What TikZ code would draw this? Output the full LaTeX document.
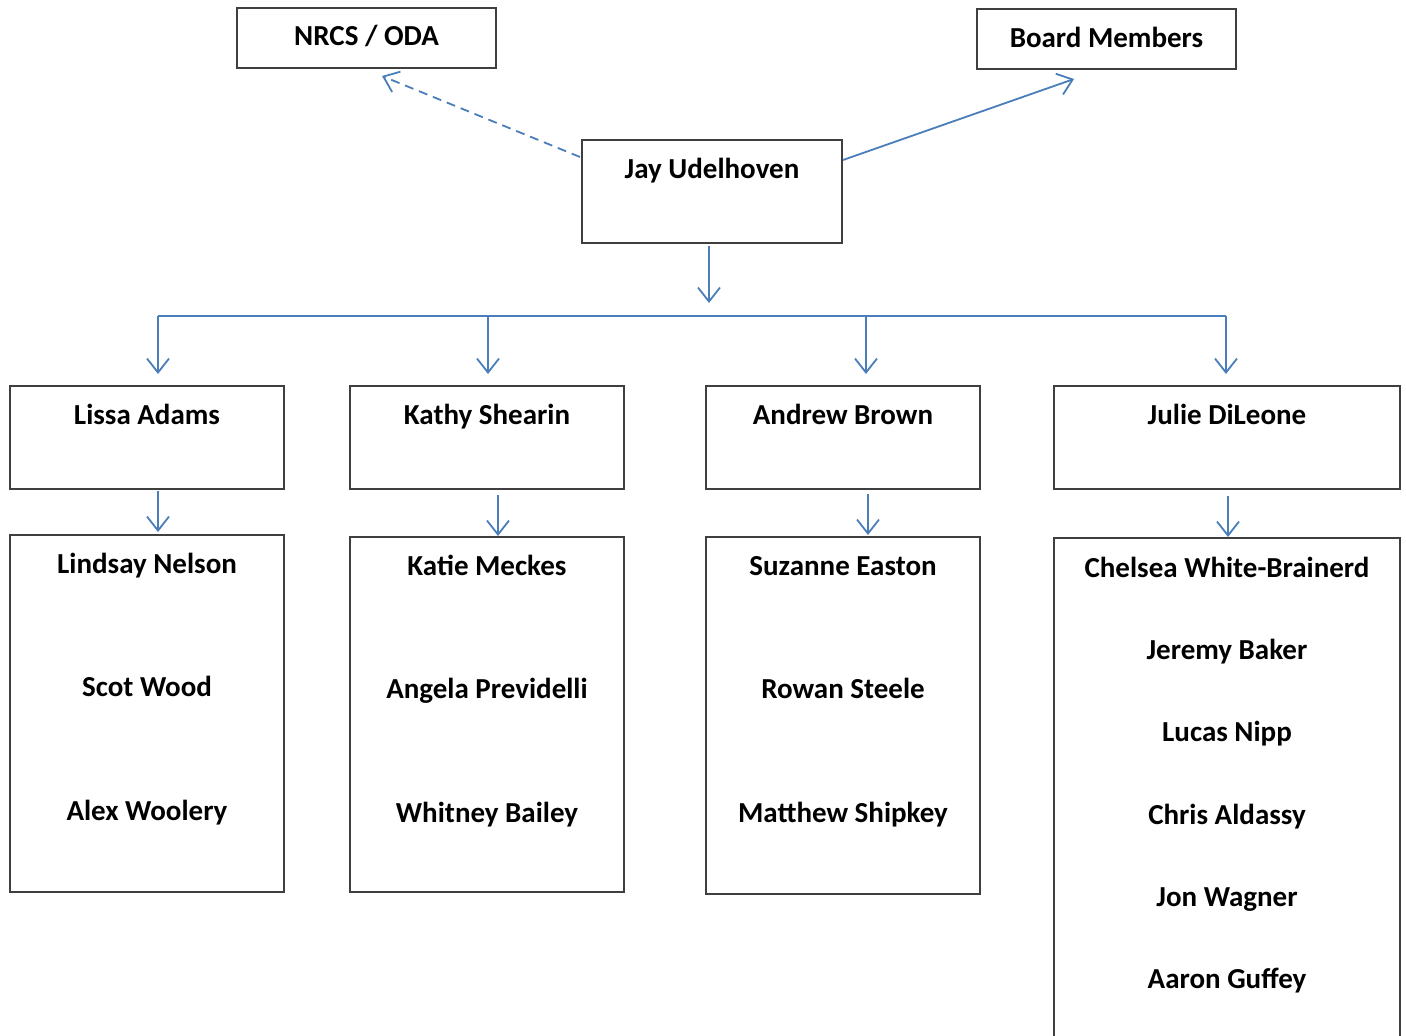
\documentclass[tikz,border=0pt]{standalone}
\usepackage{fontspec}
\setmainfont{Carlito}
\usetikzlibrary{arrows.meta}
\definecolor{conncol}{HTML}{4A7EBB}
\definecolor{boxcol}{HTML}{3F3F3F}
\tikzset{
  box/.style={draw=boxcol, line width=1.5pt, rectangle, inner sep=0pt},
  lbl/.style={font=\bfseries\fontsize{29}{34}\selectfont, anchor=mid, inner sep=0pt, yshift=-7pt},
  conn/.style={draw=conncol, line width=1.8pt, -{Straight Barb[length=14pt,width=22pt,line width=1.8pt]}},
  dconn/.style={conn, dash pattern=on 9pt off 6pt},
  bar/.style={draw=conncol, line width=1.8pt}
}
\begin{document}
\begin{tikzpicture}[x=1pt,y=-1pt]
\useasboundingbox (0,0) rectangle (1406,1036);
\clip (0,0) rectangle (1406,1036);
\fill[white] (0,0) rectangle (1406,1036);
% top boxes
\node[box, minimum width=259pt, minimum height=60pt] (nrcs) at (366.5,38) {};
\node[lbl] (nrcs-t) at (366.5,36) {NRCS / ODA};
\node[box, minimum width=259pt, minimum height=60pt] (board) at (1106.5,39) {};
\node[lbl] (board-t) at (1106.5,38) {Board Members};
\node[box, minimum width=260pt, minimum height=103pt] (jay) at (712,191.5) {};
\node[lbl] (jay-t) at (712,169) {Jay Udelhoven};
% second row
\node[box, minimum width=274pt, minimum height=103pt] (lissa) at (147,437.5) {};
\node[lbl] (lissa-t) at (147,415) {Lissa Adams};
\node[box, minimum width=274pt, minimum height=103pt] (kathy) at (487,437.5) {};
\node[lbl] (kathy-t) at (487,415) {Kathy Shearin};
\node[box, minimum width=274pt, minimum height=103pt] (andrew) at (843,437.5) {};
\node[lbl] (andrew-t) at (843,415) {Andrew Brown};
\node[box, minimum width=346pt, minimum height=103pt] (julie) at (1227,437.5) {};
\node[lbl] (julie-t) at (1227,415) {Julie DiLeone};
% third row
\node[box, minimum width=274pt, minimum height=357pt] (team1) at (147,713.5) {};
\node[lbl] (t1a) at (147,564) {Lindsay Nelson};
\node[lbl] (t1b) at (147,687) {Scot Wood};
\node[lbl] (t1c) at (147,811) {Alex Woolery};
\node[box, minimum width=274pt, minimum height=355pt] (team2) at (487,714.5) {};
\node[lbl] (t2a) at (487,566) {Katie Meckes};
\node[lbl] (t2b) at (487,689) {Angela Previdelli};
\node[lbl] (t2c) at (487,813) {Whitney Bailey};
\node[box, minimum width=274pt, minimum height=357pt] (team3) at (843,715.5) {};
\node[lbl] (t3a) at (843,566) {Suzanne Easton};
\node[lbl] (t3b) at (843,689) {Rowan Steele};
\node[lbl] (t3c) at (843,813) {Matthew Shipkey};
\node[box, minimum width=346pt, minimum height=560pt] (team4) at (1227,818) {};
\node[lbl] (t4a) at (1227,568) {Chelsea White-Brainerd};
\node[lbl] (t4b) at (1227,650) {Jeremy Baker};
\node[lbl] (t4c) at (1227,732) {Lucas Nipp};
\node[lbl] (t4d) at (1227,815) {Chris Aldassy};
\node[lbl] (t4e) at (1227,897) {Jon Wagner};
\node[lbl] (t4f) at (1227,979) {Aaron Guffey};
% connectors from Jay
\coordinate (jayL) at (580,157);
\coordinate (nrcsTip) at (382,76);
\draw[dconn] (jayL) -- (nrcsTip);
\coordinate (jayR) at (843,160);
\coordinate (boardTip) at (1074,79);
\draw[conn] (jayR) -- (boardTip);
\coordinate (jayB) at (709,246);
\coordinate (barTip) at (709,303);
\draw[conn] (jayB) -- (barTip);
% bar
\coordinate (b1) at (158,316);
\coordinate (b2) at (488,316);
\coordinate (b3) at (866,316);
\coordinate (b4) at (1226,316);
\draw[bar] (b1) -- (b4);
\draw[conn] (b1) -- (158,374);
\draw[conn] (b2) -- (488,374);
\draw[conn] (b3) -- (866,374);
\draw[conn] (b4) -- (1226,374);
% to teams
\draw[conn] (158,491) -- (158,532);
\draw[conn] (498,495) -- (498,536);
\draw[conn] (868,494) -- (868,535);
\draw[conn] (1228,496) -- (1228,537);
\end{tikzpicture}
\end{document}
